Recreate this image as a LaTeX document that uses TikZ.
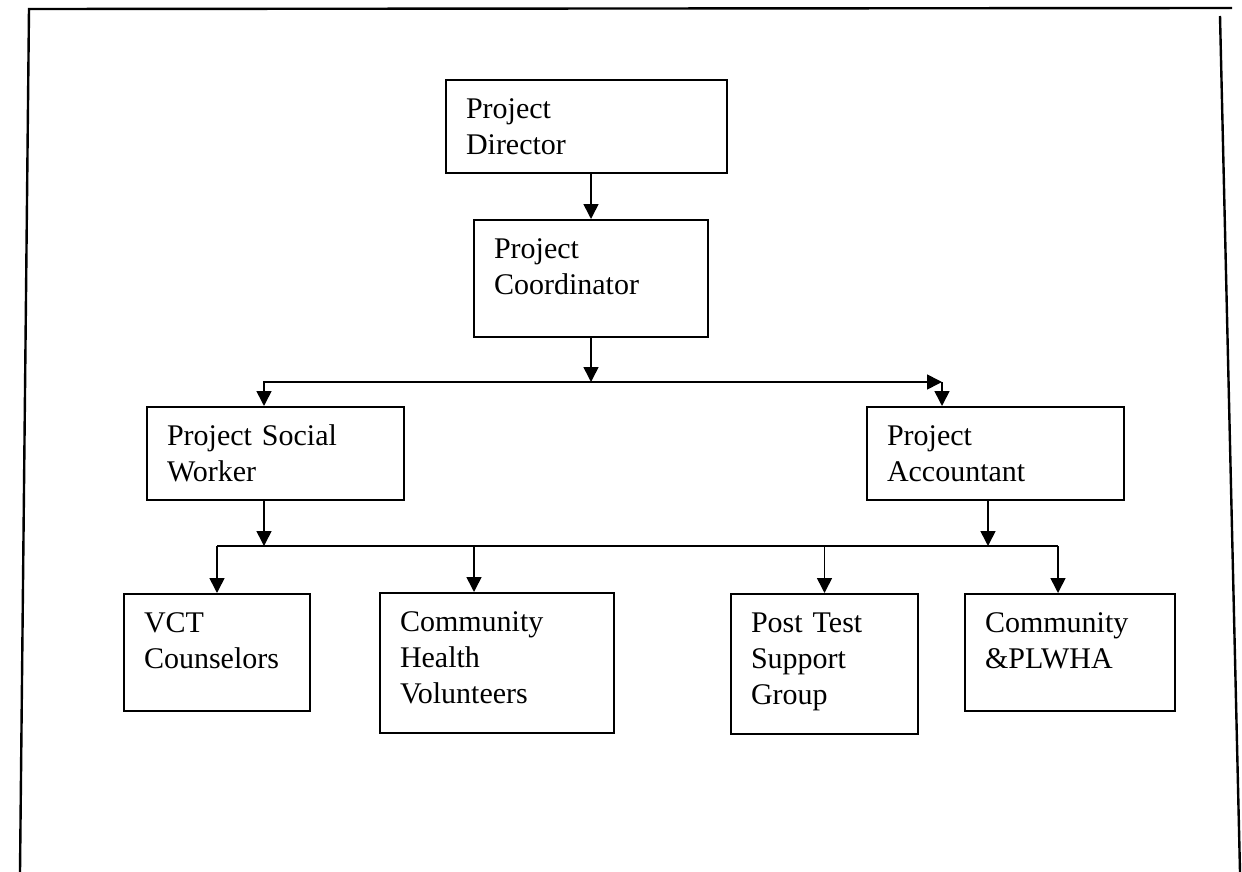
\documentclass[tikz,border=0pt]{standalone}
\usepackage{fontspec}
\setmainfont{Liberation Serif}
\usetikzlibrary{arrows.meta}

\begin{document}
\begin{tikzpicture}[x=1pt,y=-1pt,
  orgbox/.style={draw,line width=2pt,anchor=north west,inner xsep=20pt,inner ysep=0pt,
    align=left,text height=38.5pt,font=\fontsize{30}{36}\selectfont},
  arr/.style={line width=1.6pt,-{Triangle[length=15pt,width=15pt]}}]
  \useasboundingbox (0,0) rectangle (1242,872);
  \draw[line width=2.4pt] (20,872) -- (29,9) -- (1232,8);
  \draw[line width=2.4pt] (1220,16) -- (1240,872);
   \foreach \nm/\x/\y/\w/\h/\lbl in {dir/445/79/281/93/{Project\\Director},coord/473/219/234/117/{Project\\Coordinator},sw/146/406/257/93/{Project Social\\Worker},acc/866/406/257/93/{Project\\Accountant},vct/123/593/186/117/{VCT\\Counselors},chv/379/592/234/140/{Community\\Health\\Volunteers},ptsg/730/593/187/140/{Post Test\\Support\\Group},comm/964/593/210/117/{Community\\\&PLWHA}}
   {
    \pgfmathsetmacro\tw{\w-40}
    \pgfmathsetmacro\td{\h-38.5}
    \node[orgbox,text width=\tw pt,text depth=\td pt] (\nm) at (\x,\y) {\lbl};
   }
  \draw[arr] (dir.south -| coord.north) -- (coord.north);
  \coordinate (hubA) at (coord.south |- 0,382);
  \draw[arr] (coord.south) -- (hubA);
  \draw[arr] (hubA) -| ([xshift=-11.5pt]sw.north);
  \coordinate (hubB) at ([xshift=-53.5pt]acc.north |- hubA);
  \draw[arr] (hubA) -- (hubB);
  \draw[arr] (hubB) -- (hubB |- acc.north);
  \coordinate (hubC) at ([xshift=-11.5pt]sw.south |- 0,546);
  \coordinate (hubD) at ([xshift=-7.5pt]acc.south |- 0,546);
  \draw[arr] ([xshift=-11.5pt]sw.south) -- (hubC);
  \draw[arr] ([xshift=-7.5pt]acc.south) -- (hubD);
  \draw[line width=1.6pt] (vct.north |- hubC) -- ([xshift=-12pt]comm.north |- hubC);
   \foreach \nm/\dx in {vct/0,chv/-23,ptsg/0,comm/-12}
   {
    \draw[arr] ([xshift=\dx pt]\nm.north |- hubC) -- ([xshift=\dx pt]\nm.north);
   }
\end{tikzpicture}
\end{document}
